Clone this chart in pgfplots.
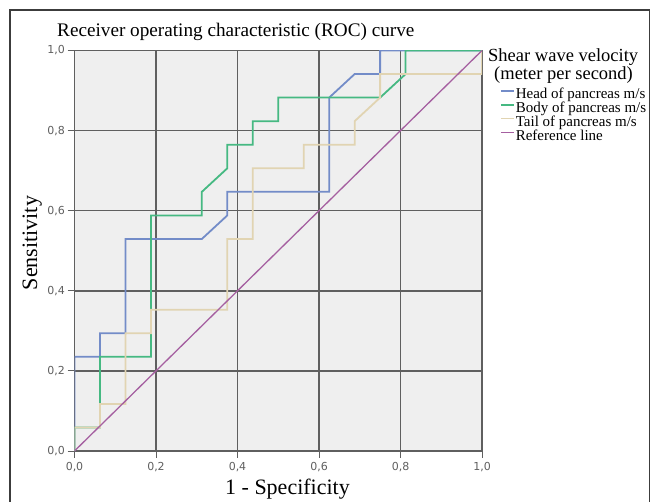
\documentclass[border=0pt]{standalone}
\usepackage{fontspec}
\setmainfont{Liberation Serif}
\newfontfamily\tickfont{DejaVu Sans}
\usepackage{pgfplots}
\pgfplotsset{compat=1.18}
\definecolor{headc}{RGB}{115,140,200}
\definecolor{bodyc}{RGB}{70,185,130}
\definecolor{tailc}{RGB}{225,212,178}
\definecolor{refc}{RGB}{165,95,160}
\definecolor{bgc}{RGB}{239,239,239}
\definecolor{gridc}{RGB}{95,95,95}
\definecolor{tickc}{RGB}{95,95,95}
\definecolor{framec}{RGB}{60,60,60}
\begin{document}
\begin{tikzpicture}[x=1pt,y=1pt]
\path[use as bounding box] (0,0) rectangle (651,501);
\draw[framec, line width=1.3pt] (10,-20) rectangle (649.3,491);
\begin{axis}[
  at={(74.5pt,50pt)}, anchor=south west,
  scale only axis, width=407.5pt, height=400.5pt,
  xmin=0, xmax=1, ymin=0, ymax=1,
  axis background/.style={fill=bgc},
  axis line style={gridc, line width=1.5pt},
  grid=major,
  major grid style={gridc, line width=1.5pt},
  xtick={0,0.2,0.4,0.6,0.8,1},
  ytick={0,0.2,0.4,0.6,0.8,1},
  tick align=outside,
  major tick length=7pt,
  every tick/.style={gridc, line width=1pt},
  xtick pos=bottom, ytick pos=left,
  ticklabel style={font=\tickfont\fontsize{11}{12}\selectfont, text=tickc},
  /pgf/number format/use comma,
  /pgf/number format/fixed,
  /pgf/number format/fixed zerofill,
  /pgf/number format/precision=1,
  /pgf/number format/assume math mode=true,
  xticklabel style={yshift=-1pt},
  yticklabel style={xshift=1pt},
  legend cell align=left,
  legend style={draw=none, fill=none, at={(1.0442,0.9039)}, anchor=north west,
    font=\fontsize{15}{13.8}\selectfont, inner sep=0pt, outer sep=0pt, row sep=0pt, column sep=0pt,
    nodes={inner sep=0pt, text height=10pt, text depth=3.8pt}},
  legend image code/.code={\draw[#1] (0pt,5pt) -- (13pt,5pt); \path (14pt,0pt);},
]
\addplot[headc, line width=1.8pt] coordinates {(0,0)(0,0.2353)(0.0625,0.2353)(0.0625,0.2941)(0.125,0.2941)(0.125,0.5294)(0.3125,0.5294)(0.375,0.5882)(0.375,0.6471)(0.625,0.6471)(0.625,0.8824)(0.6875,0.9412)(0.75,0.9412)(0.75,1)(1,1)};
\addlegendentry{Head of pancreas m/s}
\addplot[bodyc, line width=1.8pt] coordinates {(0,0)(0,0.0588)(0.0625,0.0588)(0.0625,0.2353)(0.1875,0.2353)(0.1875,0.5882)(0.3125,0.5882)(0.3125,0.6471)(0.375,0.7059)(0.375,0.7647)(0.4375,0.7647)(0.4375,0.8235)(0.5,0.8235)(0.5,0.8824)(0.75,0.8824)(0.8125,0.9412)(0.8125,1)(1,1)};
\addlegendentry{Body of pancreas m/s}
\addplot[tailc, line width=1.8pt] coordinates {(0,0)(0,0.0588)(0.0625,0.0588)(0.0625,0.1176)(0.125,0.1176)(0.125,0.2941)(0.1875,0.2941)(0.1875,0.3529)(0.375,0.3529)(0.375,0.5294)(0.4375,0.5294)(0.4375,0.7059)(0.5625,0.7059)(0.5625,0.7647)(0.6875,0.7647)(0.6875,0.8235)(0.75,0.8824)(0.75,0.9412)(1,0.9412)(1,1)};
\addlegendentry{Tail of pancreas m/s}
\addplot[refc, line width=1.3pt] coordinates {(0,0)(1,1)};
\addlegendentry{Reference line}
\end{axis}
\node[anchor=base west, inner sep=0pt, font=\fontsize{19.2}{23}\selectfont] at (57,464) {Receiver operating characteristic (ROC) curve};
\node[anchor=base west, inner sep=0pt, font=\fontsize{18.5}{22}\selectfont] at (488,439) {Shear wave velocity};
\node[anchor=base west, inner sep=0pt, font=\fontsize{18.5}{22}\selectfont] at (494,421) {(meter per second)};
\node[anchor=base, rotate=90, inner sep=0pt, font=\fontsize{22}{26}\selectfont] at (37,258) {Sensitivity};
\node[anchor=base, inner sep=0pt, font=\fontsize{22}{26}\selectfont] at (287.5,6) {1 - Specificity};
\end{tikzpicture}
\end{document}
